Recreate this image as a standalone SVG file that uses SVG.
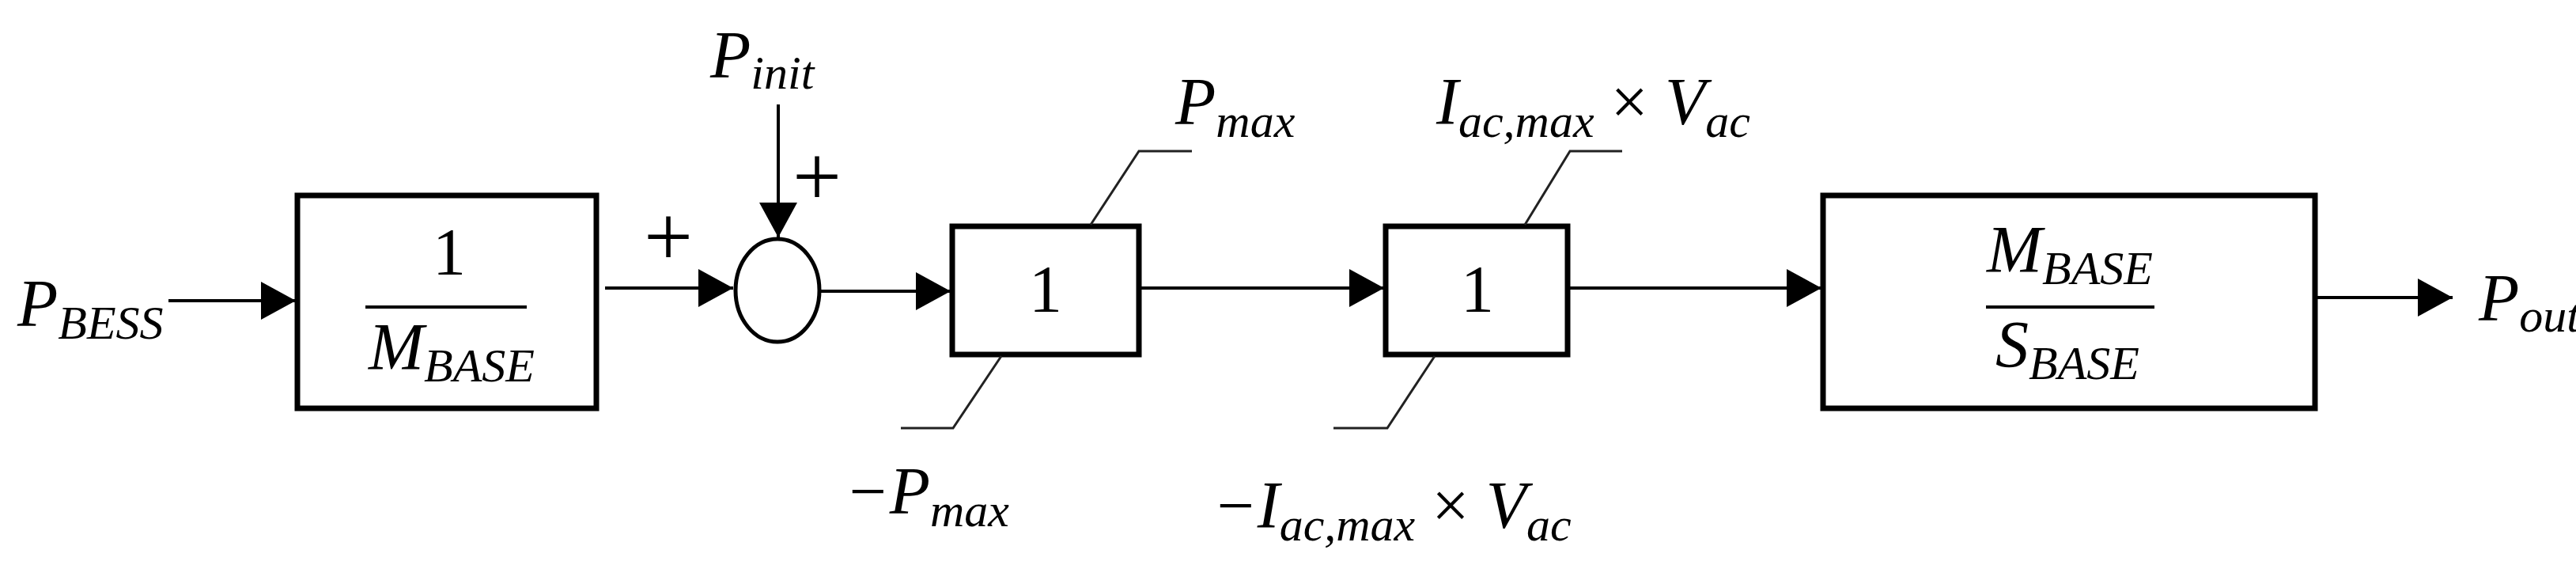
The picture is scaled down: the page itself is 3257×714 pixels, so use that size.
<svg xmlns="http://www.w3.org/2000/svg" width="3257" height="714" viewBox="0 0 3257 714">
<style>
text{font-family:"Liberation Serif","DejaVu Serif",serif;font-style:italic;fill:#000}
.m{font-size:84px}
.s{font-size:60px}
.n{font-style:normal;font-size:84px}
.pl{font-style:normal;font-size:110px}
.box{fill:#fff;stroke:#000;stroke-width:7}
.ln{fill:none;stroke:#000;stroke-width:4}
.lim{fill:none;stroke:#222;stroke-width:3}
</style>
<defs>
<marker id="ah" markerUnits="userSpaceOnUse" markerWidth="46" markerHeight="48" refX="44" refY="24" orient="auto">
<path d="M0,0 L44,24 L0,48 Z" fill="#000"/>
</marker>
</defs>
<rect width="3257" height="714" fill="#fff"/>
<g id="connectors">
<path class="ln" d="M213,380 H374" marker-end="url(#ah)"/>
<path class="ln" d="M765,364 H927" marker-end="url(#ah)"/>
<path class="ln" d="M984,132 V300" marker-end="url(#ah)"/>
<path class="ln" d="M1036,368 H1202" marker-end="url(#ah)"/>
<path class="ln" d="M1440,364 H1750" marker-end="url(#ah)"/>
<path class="ln" d="M1982,364 H2303" marker-end="url(#ah)"/>
<path class="ln" d="M2927,376 H3101" marker-end="url(#ah)"/>
</g>
<g id="input"><text x="22" y="412" class="m">P<tspan class="s" dy="16" font-size="56">BESS</tspan></text></g>
<g id="gain1">
<rect class="box" x="376" y="247" width="378" height="269"/>
<text x="568" y="347" class="n" text-anchor="middle">1</text>
<line x1="462" y1="388" x2="666" y2="388" stroke="#000" stroke-width="4"/>
<text x="466" y="467" class="m">M<tspan class="s" dy="15">BASE</tspan></text>
</g>
<g id="sum">
<ellipse cx="983" cy="367" rx="53" ry="65" fill="#fff" stroke="#000" stroke-width="5"/>
<text x="845" y="336" class="pl" text-anchor="middle">+</text>
<text x="1033" y="260" class="pl" text-anchor="middle">+</text>
<text x="898" y="98" class="m">P<tspan class="s" dy="14">init</tspan></text>
</g>
<g id="limiter1">
<rect class="box" x="1204" y="286" width="236" height="162"/>
<text x="1322" y="394" class="n" text-anchor="middle">1</text>
<path class="lim" d="M1379,284 L1440,191 H1507"/>
<path class="lim" d="M1266,450 L1205,541 H1139"/>
<text x="1486" y="157" class="m">P<tspan class="s" dy="16">max</tspan></text>
<text x="1068" y="649" class="m">−P<tspan class="s" dy="16">max</tspan></text>
</g>
<g id="limiter2">
<rect class="box" x="1752" y="286" width="230" height="162"/>
<text x="1868" y="394" class="n" text-anchor="middle">1</text>
<path class="lim" d="M1928,284 L1985,191 H2051"/>
<path class="lim" d="M1814,450 L1754,541 H1686"/>
<text x="1816" y="157" class="m">I<tspan class="s" dy="16">ac,max</tspan><tspan dy="-16" font-style="normal"> × </tspan>V<tspan class="s" dy="16">ac</tspan></text>
<text x="1533" y="667" class="m">−I<tspan class="s" dy="16">ac,max</tspan><tspan dy="-16" font-style="normal"> × </tspan>V<tspan class="s" dy="16">ac</tspan></text>
</g>
<g id="gain2">
<rect class="box" x="2305" y="247" width="622" height="269"/>
<text x="2512" y="344" class="m">M<tspan class="s" dy="15">BASE</tspan></text>
<line x1="2511" y1="388" x2="2724" y2="388" stroke="#000" stroke-width="4"/>
<text x="2523" y="464" class="m">S<tspan class="s" dy="15">BASE</tspan></text>
</g>
<g id="output"><text x="3134" y="405" class="m">P<tspan class="s" dy="14" font-size="54">out</tspan></text></g>
</svg>
